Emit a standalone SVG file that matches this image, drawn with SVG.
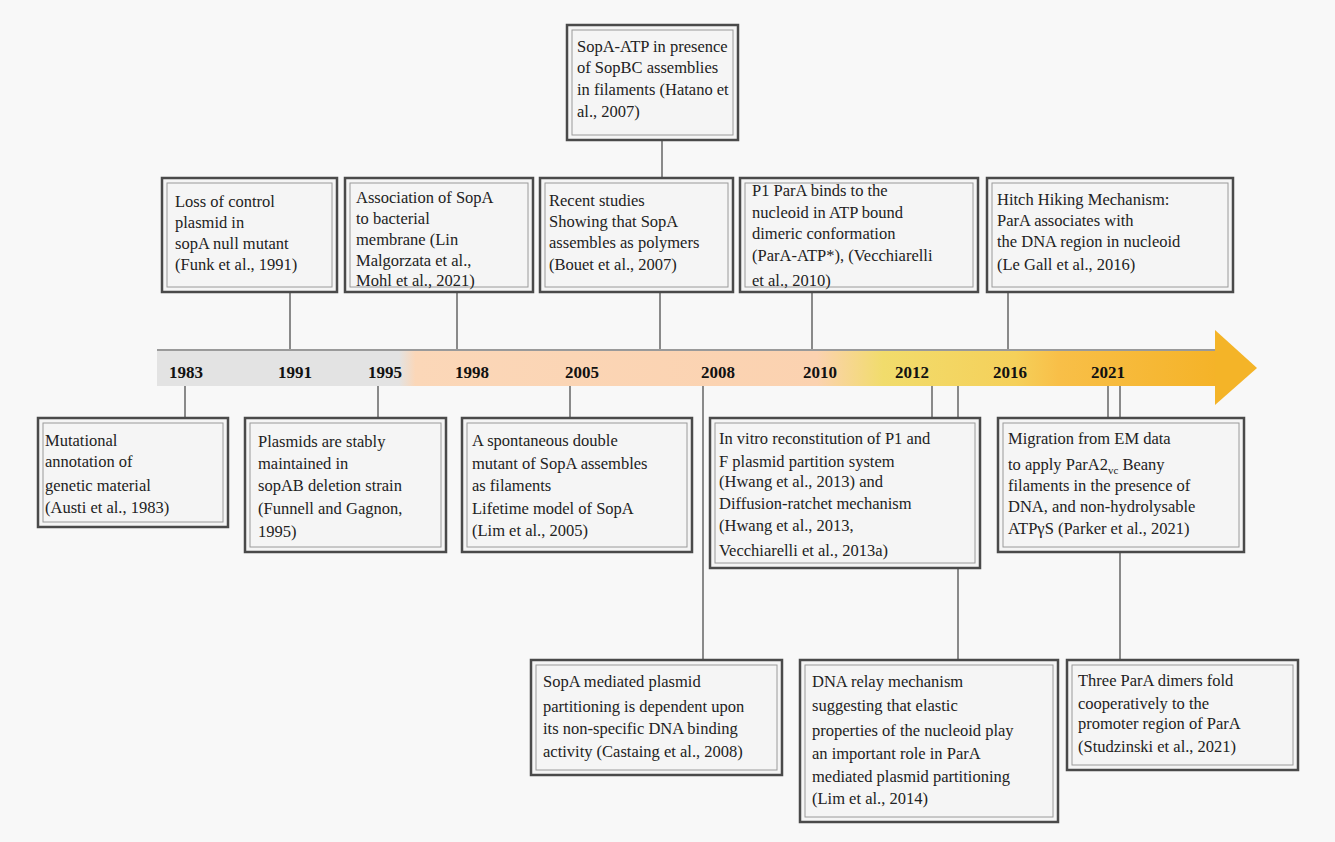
<svg xmlns="http://www.w3.org/2000/svg" width="1335" height="842" viewBox="0 0 1335 842">
<defs>
<style>
.bo{fill:#f5f5f5;stroke:#4a4a4a;stroke-width:2.5}
.bi{fill:none;stroke:#9a9a9a;stroke-width:1}
.t{font-family:"Liberation Serif","Times New Roman",serif;font-size:16.5px;fill:#222}
.y{font-family:"Liberation Serif","Times New Roman",serif;font-size:17px;font-weight:bold;fill:#111;text-anchor:middle}
.c{stroke:#8a8a8a;stroke-width:2;fill:none}
</style>
<linearGradient id="bar" x1="157" y1="0" x2="1257" y2="0" gradientUnits="userSpaceOnUse">
<stop offset="0" stop-color="#e3e3e3"/>
<stop offset="0.22" stop-color="#e3e3e3"/>
<stop offset="0.235" stop-color="#fbd7b8"/>
<stop offset="0.6" stop-color="#fbd2b0"/>
<stop offset="0.66" stop-color="#f1dc6c"/>
<stop offset="0.78" stop-color="#f5d05a"/>
<stop offset="0.82" stop-color="#f8bf48"/>
<stop offset="1" stop-color="#f4b020"/>
</linearGradient>
</defs>
<rect x="0" y="0" width="1335" height="842" fill="#f8f8f8"/>

<g id="connectors">
<line class="c" x1="662" y1="140" x2="662" y2="178"/>
<line class="c" x1="290" y1="292" x2="290" y2="350"/>
<line class="c" x1="457" y1="292" x2="457" y2="350"/>
<line class="c" x1="660" y1="292" x2="660" y2="350"/>
<line class="c" x1="812" y1="292" x2="812" y2="350"/>
<line class="c" x1="1008" y1="292" x2="1008" y2="350"/>
<line class="c" x1="185" y1="386" x2="185" y2="418"/>
<line class="c" x1="378" y1="386" x2="378" y2="418"/>
<line class="c" x1="570" y1="386" x2="570" y2="418"/>
<line class="c" x1="703" y1="386" x2="703" y2="660"/>
<line class="c" x1="932" y1="386" x2="932" y2="418"/>
<line class="c" x1="958" y1="386" x2="958" y2="418"/>
<line class="c" x1="958" y1="568" x2="958" y2="660"/>
<line class="c" x1="1108" y1="386" x2="1108" y2="418"/>
<line class="c" x1="1120" y1="386" x2="1120" y2="418"/>
<line class="c" x1="1120" y1="552" x2="1120" y2="660"/>
</g>

<g id="timeline">
<rect x="157" y="350" width="1060" height="36" fill="url(#bar)"/>
<line x1="157" y1="350" x2="1217" y2="350" stroke="#9a9a9a" stroke-width="2"/>
<polygon points="1215,330 1257,368 1215,405" fill="#f4b428"/>
<text class="y" x="186" y="378">1983</text>
<text class="y" x="295" y="378">1991</text>
<text class="y" x="385" y="378">1995</text>
<text class="y" x="472" y="378">1998</text>
<text class="y" x="582" y="378">2005</text>
<text class="y" x="718" y="378">2008</text>
<text class="y" x="820" y="378">2010</text>
<text class="y" x="912" y="378">2012</text>
<text class="y" x="1010" y="378">2016</text>
<text class="y" x="1108" y="378">2021</text>
</g>

<g id="n2007top">
<rect class="bo" x="567" y="25" width="171" height="115"/>
<rect class="bi" x="572" y="30" width="161" height="105"/>
<text class="t" x="577" y="52">SopA-ATP in presence</text>
<text class="t" x="577" y="73">of SopBC assemblies</text>
<text class="t" x="577" y="95">in filaments (Hatano et</text>
<text class="t" x="577" y="117">al., 2007)</text>
</g>

<g id="n1991">
<rect class="bo" x="162" y="178" width="175" height="114"/>
<rect class="bi" x="167" y="183" width="165" height="104"/>
<text class="t" x="175" y="207">Loss of control</text>
<text class="t" x="175" y="228">plasmid in</text>
<text class="t" x="175" y="249">sopA null mutant</text>
<text class="t" x="175" y="270">(Funk et al., 1991)</text>
</g>

<g id="n1998">
<rect class="bo" x="345" y="178" width="188" height="114"/>
<rect class="bi" x="350" y="183" width="178" height="104"/>
<text class="t" x="356" y="203">Association of SopA</text>
<text class="t" x="356" y="224">to bacterial</text>
<text class="t" x="356" y="245">membrane (Lin</text>
<text class="t" x="356" y="266">Malgorzata et al.,</text>
<text class="t" x="356" y="286">Mohl et al., 2021)</text>
</g>

<g id="n2007">
<rect class="bo" x="540" y="178" width="193" height="114"/>
<rect class="bi" x="545" y="183" width="183" height="104"/>
<text class="t" x="549" y="206">Recent studies</text>
<text class="t" x="549" y="227">Showing that SopA</text>
<text class="t" x="549" y="248">assembles as polymers</text>
<text class="t" x="549" y="270">(Bouet et al., 2007)</text>
</g>

<g id="n2010">
<rect class="bo" x="740" y="178" width="238" height="114"/>
<rect class="bi" x="745" y="183" width="228" height="104"/>
<text class="t" x="752" y="196">P1 ParA binds to the</text>
<text class="t" x="752" y="218">nucleoid in ATP bound</text>
<text class="t" x="752" y="239">dimeric conformation</text>
<text class="t" x="752" y="261">(ParA-ATP*), (Vecchiarelli</text>
<text class="t" x="752" y="286">et al., 2010)</text>
</g>

<g id="n2016">
<rect class="bo" x="987" y="178" width="246" height="114"/>
<rect class="bi" x="992" y="183" width="236" height="104"/>
<text class="t" x="997" y="205">Hitch Hiking Mechanism:</text>
<text class="t" x="997" y="226">ParA associates with</text>
<text class="t" x="997" y="247">the DNA region in nucleoid</text>
<text class="t" x="997" y="270">(Le Gall et al., 2016)</text>
</g>

<g id="n1983">
<rect class="bo" x="38" y="418" width="190" height="109"/>
<rect class="bi" x="43" y="423" width="180" height="99"/>
<text class="t" x="45" y="446">Mutational</text>
<text class="t" x="45" y="467">annotation of</text>
<text class="t" x="45" y="491">genetic material</text>
<text class="t" x="45" y="513">(Austi et al., 1983)</text>
</g>

<g id="n1995">
<rect class="bo" x="245" y="418" width="201" height="134"/>
<rect class="bi" x="250" y="423" width="191" height="124"/>
<text class="t" x="258" y="447">Plasmids are stably</text>
<text class="t" x="258" y="469">maintained in</text>
<text class="t" x="258" y="491">sopAB deletion strain</text>
<text class="t" x="258" y="514">(Funnell and Gagnon,</text>
<text class="t" x="258" y="537">1995)</text>
</g>

<g id="n2005">
<rect class="bo" x="462" y="418" width="230" height="134"/>
<rect class="bi" x="467" y="423" width="220" height="124"/>
<text class="t" x="472" y="446">A spontaneous double</text>
<text class="t" x="472" y="469">mutant of SopA assembles</text>
<text class="t" x="472" y="491">as filaments</text>
<text class="t" x="472" y="514">Lifetime model of SopA</text>
<text class="t" x="472" y="536">(Lim et al., 2005)</text>
</g>

<g id="n2012">
<rect class="bo" x="710" y="418" width="270" height="150"/>
<rect class="bi" x="715" y="423" width="260" height="140"/>
<text class="t" x="719" y="444">In vitro reconstitution of P1 and</text>
<text class="t" x="719" y="467">F plasmid partition system</text>
<text class="t" x="719" y="487">(Hwang et al., 2013) and</text>
<text class="t" x="719" y="509">Diffusion-ratchet mechanism</text>
<text class="t" x="719" y="531">(Hwang et al., 2013,</text>
<text class="t" x="719" y="556">Vecchiarelli et al., 2013a)</text>
</g>

<g id="n2021">
<rect class="bo" x="998" y="418" width="246" height="134"/>
<rect class="bi" x="1003" y="423" width="236" height="124"/>
<text class="t" x="1008" y="444">Migration from EM data</text>
<text class="t" x="1008" y="470">to apply ParA2<tspan font-size="11" dy="4">vc</tspan><tspan dy="-4"> Beany</tspan></text>
<text class="t" x="1008" y="491">filaments in the presence of</text>
<text class="t" x="1008" y="512">DNA, and non-hydrolysable</text>
<text class="t" x="1008" y="534">ATPγS (Parker et al., 2021)</text>
</g>

<g id="n2008">
<rect class="bo" x="531" y="660" width="251" height="115"/>
<rect class="bi" x="536" y="665" width="241" height="105"/>
<text class="t" x="543" y="687">SopA mediated plasmid</text>
<text class="t" x="543" y="712">partitioning is dependent upon</text>
<text class="t" x="543" y="734">its non-specific DNA binding</text>
<text class="t" x="543" y="757">activity (Castaing et al., 2008)</text>
</g>

<g id="n2014">
<rect class="bo" x="800" y="660" width="258" height="162"/>
<rect class="bi" x="805" y="665" width="248" height="152"/>
<text class="t" x="812" y="687">DNA relay mechanism</text>
<text class="t" x="812" y="711">suggesting that elastic</text>
<text class="t" x="812" y="736">properties of the nucleoid play</text>
<text class="t" x="812" y="759">an important role in ParA</text>
<text class="t" x="812" y="782">mediated plasmid partitioning</text>
<text class="t" x="812" y="804">(Lim et al., 2014)</text>
</g>

<g id="n2021b">
<rect class="bo" x="1067" y="660" width="231" height="110"/>
<rect class="bi" x="1072" y="665" width="221" height="100"/>
<text class="t" x="1078" y="686">Three ParA dimers fold</text>
<text class="t" x="1078" y="709">cooperatively to the</text>
<text class="t" x="1078" y="729">promoter region of ParA</text>
<text class="t" x="1078" y="752">(Studzinski et al., 2021)</text>
</g>
</svg>
